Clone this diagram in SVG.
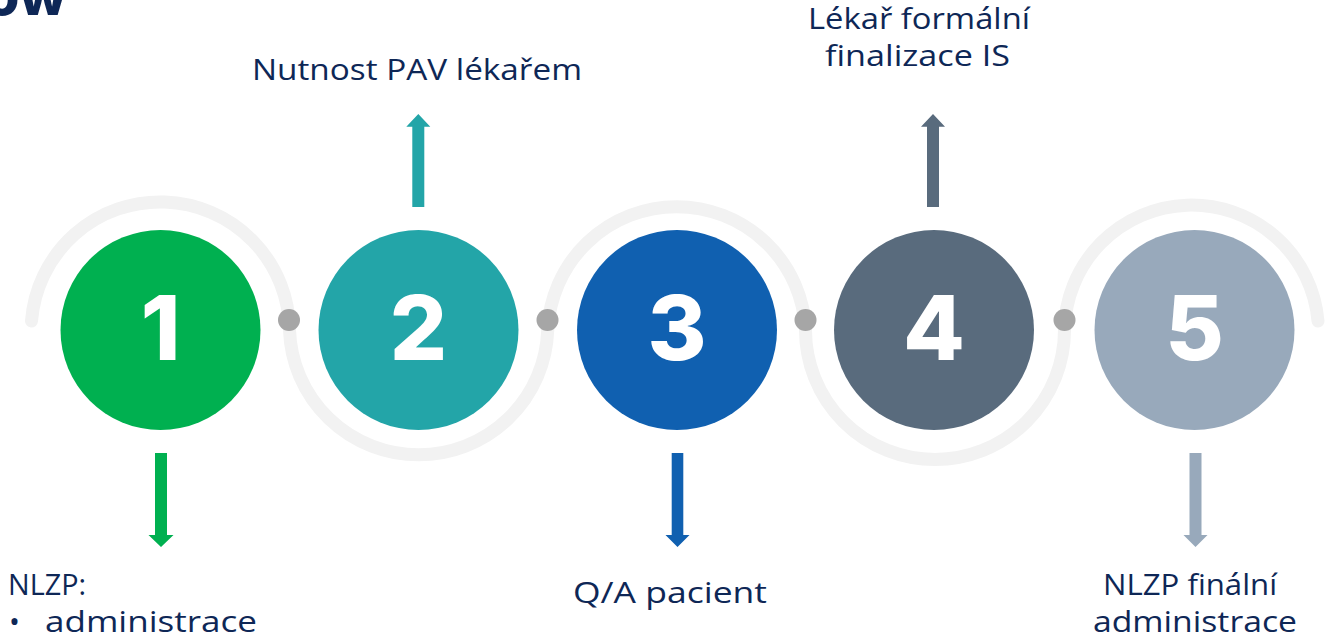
<svg xmlns="http://www.w3.org/2000/svg" width="1325" height="637" viewBox="0 0 1325 637">
<style>
.lbl{font-family:"Open Sans","Liberation Sans",sans-serif;font-size:29px;fill:#0e2756}
.num{font-family:Inter,"Liberation Sans",Arial,sans-serif;font-weight:800;font-size:90px;fill:#ffffff;text-anchor:middle}
.dot{fill:#a6a6a6}
.title{font-family:Inter,"Liberation Sans",Arial,sans-serif;font-weight:800;font-size:56px;fill:#0e2756}
</style>
<rect width="1325" height="637" fill="#ffffff"/>
<text class="title" x="67" y="15" text-anchor="end">ow</text>
<g id="connectors">
<path d="M 31.5 321 A 129.2 129.2 0 0 1 289.5 330 A 129.2 129.2 0 0 0 547.75 330 A 129 129 0 0 1 805.5 330 A 129.5 129.5 0 0 0 1064.5 330 A 127 127 0 0 1 1318 321" fill="none" stroke="#f2f2f2" stroke-width="13" stroke-linecap="round"/>
<circle class="dot" cx="289" cy="320" r="11"/>
<circle class="dot" cx="547.5" cy="320" r="11"/>
<circle class="dot" cx="805.5" cy="320" r="11"/>
<circle class="dot" cx="1064.5" cy="320" r="11"/>
<path d="M155 453 H167 V535 H173.5 L161 547 L148.5 535 H155 Z" fill="#00b050"/>
<path d="M412.3 207 H424.3 V126.7 H430.3 L418.3 114 L406.3 126.7 H412.3 Z" fill="#23a5a8"/>
<path d="M671.7 453 H683.3 V535 H689.5 L677.5 547 L665.5 535 H671.7 Z" fill="#1060b0"/>
<path d="M927 207 H939 V126.7 H945 L933 114 L921 126.7 H927 Z" fill="#596b7d"/>
<path d="M1189.5 453 H1201.5 V535 H1207.5 L1195.5 547 L1183.5 535 H1189.5 Z" fill="#98a9bb"/>
</g>
<g id="node1">
<circle cx="160.5" cy="330" r="100" fill="#00b050"/>
<text class="num" x="160.5" y="360">1</text>
<text class="lbl" x="8" y="595" textLength="78" lengthAdjust="spacingAndGlyphs">NLZP:</text>
<text class="lbl" x="9" y="632">•</text>
<text class="lbl" x="45" y="632" textLength="212" lengthAdjust="spacingAndGlyphs">administrace</text>
</g>
<g id="node2">
<circle cx="418.5" cy="330" r="100" fill="#23a5a8"/>
<text class="num" x="418.5" y="360">2</text>
<text class="lbl" x="252" y="79.5" textLength="330" lengthAdjust="spacingAndGlyphs">Nutnost PAV lékařem</text>
</g>
<g id="node3">
<circle cx="677" cy="330" r="100" fill="#1060b0"/>
<text class="num" x="677" y="360">3</text>
<text class="lbl" x="573" y="602.5" textLength="194" lengthAdjust="spacingAndGlyphs">Q/A pacient</text>
</g>
<g id="node4">
<circle cx="934" cy="330" r="100" fill="#596b7d"/>
<text class="num" x="934" y="360">4</text>
<text class="lbl" x="808" y="28.5" textLength="222" lengthAdjust="spacingAndGlyphs">Lékař formální</text>
<text class="lbl" x="825" y="66" textLength="185" lengthAdjust="spacingAndGlyphs">finalizace IS</text>
</g>
<g id="node5">
<circle cx="1194.5" cy="330" r="100" fill="#98a9bb"/>
<text class="num" x="1194.5" y="360">5</text>
<text class="lbl" x="1103" y="595" textLength="174" lengthAdjust="spacingAndGlyphs">NLZP finální</text>
<text class="lbl" x="1093" y="632" textLength="204" lengthAdjust="spacingAndGlyphs">administrace</text>
</g>
</svg>
